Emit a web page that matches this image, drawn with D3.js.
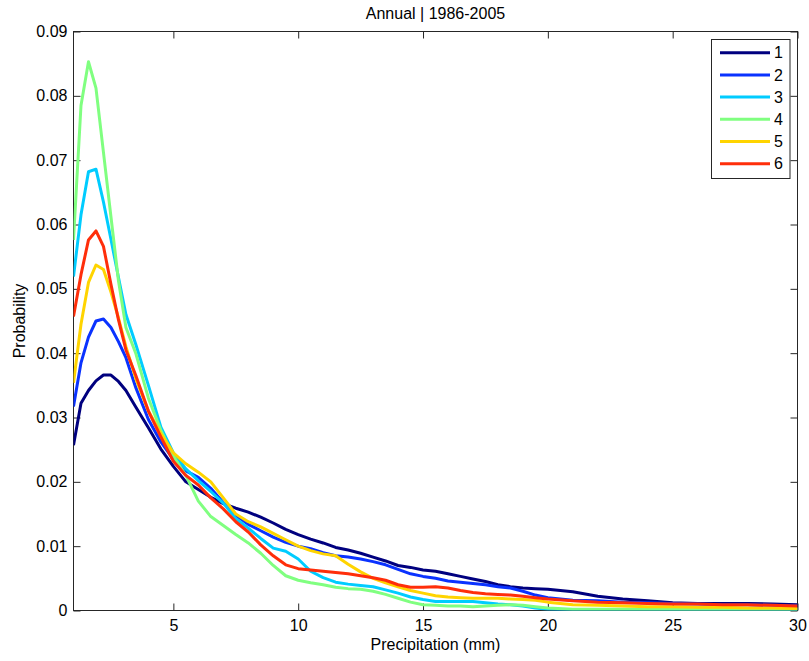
<!DOCTYPE html>
<html><head><meta charset="utf-8">
<script src="https://cdn.jsdelivr.net/npm/d3@7"></script>
<style>body{margin:0;background:#fff;} svg{display:block;font-family:"Liberation Sans",Arial,sans-serif;}</style>
</head><body>
<svg id="chart" width="809" height="661"></svg>
<script>
const title = "Annual | 1986-2005";
const xLabel = "Precipitation (mm)";
const yLabel = "Probability";
const seriesNames = ["1","2","3","4","5","6"];
const seriesColors = ["#00007f","#0a32ff","#00ccff","#80ff80","#ffd400","#ff2e0a"];
const xTicks = [5,10,15,20,25,30];
const yTicks = [0,0.01,0.02,0.03,0.04,0.05,0.06,0.07,0.08,0.09];

const xs = [1,1.3,1.6,1.9,2.2,2.5,2.8,3.1,3.5,4,4.5,5,5.5,6,6.5,7,7.5,8,8.5,9,9.5,10,10.5,11,11.5,12,12.5,13,13.5,14,14.5,15,15.5,16,16.5,17,17.5,18,18.5,19,19.5,20,21,22,23,24,25,26,27,28,29,30];

const s1 = [0.0257,0.0322,0.0342,0.0357,0.0366,0.0366,0.0356,0.0342,0.0316,0.0284,0.0251,0.0224,0.0200,0.0188,0.0176,0.0166,0.0159,0.0153,0.0145,0.0136,0.0126,0.0118,0.0111,0.0105,0.0098,0.0094,0.0089,0.0083,0.0077,0.0070,0.0067,0.0063,0.0061,0.0057,0.0053,0.0049,0.0045,0.0040,0.0037,0.0035,0.0034,0.0033,0.0029,0.0022,0.0018,0.0015,0.0012,0.0011,0.0011,0.0011,0.0010,0.0009];
const s2 = [0.0317,0.0385,0.0425,0.0450,0.0453,0.0440,0.0418,0.0393,0.0346,0.0297,0.0262,0.0235,0.0217,0.0207,0.0190,0.0168,0.0148,0.0134,0.0124,0.0114,0.0106,0.0100,0.0096,0.0090,0.0085,0.0083,0.0080,0.0076,0.0071,0.0064,0.0057,0.0053,0.0050,0.0046,0.0044,0.0042,0.0040,0.0037,0.0035,0.0030,0.0024,0.0020,0.0016,0.0015,0.0013,0.0012,0.0011,0.0010,0.0009,0.0009,0.0008,0.0007];
const s3 = [0.0519,0.0615,0.0682,0.0686,0.0635,0.0577,0.0518,0.0460,0.0413,0.0350,0.0285,0.0245,0.0220,0.0202,0.0185,0.0167,0.0143,0.0128,0.0112,0.0097,0.0092,0.0080,0.0061,0.0051,0.0044,0.0041,0.0039,0.0037,0.0032,0.0027,0.0021,0.0017,0.0014,0.0014,0.0014,0.0014,0.0012,0.0010,0.0009,0.0007,0.0004,0.0002,0.0001,0.0001,0.0001,0.0001,0.0001,0.0001,0.0001,0.0001,0.0001,0.0001];
const s4 = [0.0576,0.0785,0.0853,0.0812,0.0712,0.0612,0.0513,0.0440,0.0399,0.0330,0.0280,0.0240,0.0210,0.0170,0.0146,0.0132,0.0118,0.0105,0.0089,0.0070,0.0054,0.0047,0.0043,0.0040,0.0036,0.0034,0.0033,0.0030,0.0025,0.0019,0.0013,0.0009,0.0008,0.0007,0.0007,0.0006,0.0007,0.0008,0.0009,0.0008,0.0006,0.0004,0.0002,0.0002,0.0002,0.0002,0.0002,0.0002,0.0002,0.0002,0.0002,0.0002];
const s5 = [0.0354,0.0445,0.0510,0.0537,0.0530,0.0495,0.0455,0.0410,0.0360,0.0310,0.0275,0.0245,0.0228,0.0215,0.0200,0.0175,0.0150,0.0138,0.0130,0.0120,0.0110,0.0100,0.0093,0.0088,0.0085,0.0072,0.0060,0.0050,0.0043,0.0037,0.0031,0.0027,0.0023,0.0021,0.0020,0.0019,0.0019,0.0019,0.0018,0.0017,0.0016,0.0013,0.0009,0.0008,0.0007,0.0006,0.0006,0.0005,0.0005,0.0004,0.0004,0.0003];
const s6 = [0.0457,0.0522,0.0576,0.0590,0.0566,0.0507,0.0452,0.0405,0.0365,0.0310,0.0270,0.0232,0.0210,0.0195,0.0175,0.0158,0.0138,0.0122,0.0102,0.0085,0.0071,0.0065,0.0063,0.0061,0.0059,0.0057,0.0054,0.0051,0.0047,0.0040,0.0036,0.0036,0.0037,0.0035,0.0031,0.0028,0.0026,0.0025,0.0024,0.0022,0.0020,0.0018,0.0015,0.0013,0.0012,0.0011,0.0010,0.0010,0.0009,0.0009,0.0008,0.0007];
const seriesValues = [s1,s2,s3,s4,s5,s6];

const svg = d3.select("#chart");
const L = 73.5, R = 797.5, T = 31.5, B = 610.5;
const x = d3.scaleLinear().domain([1,30]).range([L,R]);
const y = d3.scaleLinear().domain([0,0.09]).range([B,T]);
const FS = "16px";

const axColor = "#262626";
svg.append("rect").attr("x",L).attr("y",T).attr("width",R-L).attr("height",B-T)
  .attr("fill","none").attr("stroke",axColor).attr("stroke-width",1);

const fmtY = d => d === 0 ? "0" : d3.format(".2f")(d);
const yAxisL = d3.axisLeft(y).tickValues(yTicks).tickSizeInner(-7).tickSizeOuter(0).tickPadding(6).tickFormat(fmtY);
const yAxisR = d3.axisRight(y).tickValues(yTicks).tickSizeInner(-7).tickSizeOuter(0).tickFormat("");
const xAxisB = d3.axisBottom(x).tickValues(xTicks).tickSizeInner(-7).tickSizeOuter(0).tickPadding(9);
const xAxisT = d3.axisTop(x).tickValues(xTicks).tickSizeInner(-7).tickSizeOuter(0).tickFormat("");

function style(g){
  g.select(".domain").remove();
  g.selectAll(".tick line").attr("stroke",axColor);
  g.selectAll(".tick text").attr("fill","#000").style("font-size",FS).style("font-family","'Liberation Sans',Arial,sans-serif");
}
svg.append("g").attr("transform",`translate(${L},0)`).call(yAxisL).call(style);
svg.append("g").attr("transform",`translate(${R},0)`).call(yAxisR).call(style);
svg.append("g").attr("transform",`translate(0,${B})`).call(xAxisB).call(style);
svg.append("g").attr("transform",`translate(0,${T})`).call(xAxisT).call(style);

const line = d3.line().x((d,i)=>x(xs[i])).y(d=>y(d));
svg.append("clipPath").attr("id","clip").append("rect")
  .attr("x",L).attr("y",T).attr("width",R-L).attr("height",B-T);
const lg = svg.append("g").attr("clip-path","url(#clip)");
seriesValues.forEach((vals,k)=>{
  lg.append("path").datum(vals).attr("d",line).attr("fill","none")
    .attr("stroke",seriesColors[k]).attr("stroke-width",3).attr("stroke-linejoin","round");
});

svg.append("text").attr("x",(L+R)/2).attr("y",19).attr("text-anchor","middle")
  .style("font-size",FS).text(title);
svg.append("text").attr("x",(L+R)/2).attr("y",650).attr("text-anchor","middle")
  .style("font-size",FS).text(xLabel);
svg.append("text").attr("transform",`translate(25,${(T+B)/2}) rotate(-90)`).attr("text-anchor","middle")
  .style("font-size",FS).text(yLabel);

const lgX = 711.5, lgY = 39.5, lgW = 78.5, lgH = 139;
const leg = svg.append("g");
leg.append("rect").attr("x",lgX).attr("y",lgY).attr("width",lgW).attr("height",lgH)
  .attr("fill","#fff").attr("stroke",axColor).attr("stroke-width",1);
seriesNames.forEach((n,k)=>{
  const yy = 52.7 + k*22.2;
  leg.append("line").attr("x1",720).attr("x2",770).attr("y1",yy).attr("y2",yy)
    .attr("stroke",seriesColors[k]).attr("stroke-width",3);
  leg.append("text").attr("x",774).attr("y",yy).attr("dy","0.36em")
    .style("font-size",FS).text(n);
});
</script>
</body></html>
